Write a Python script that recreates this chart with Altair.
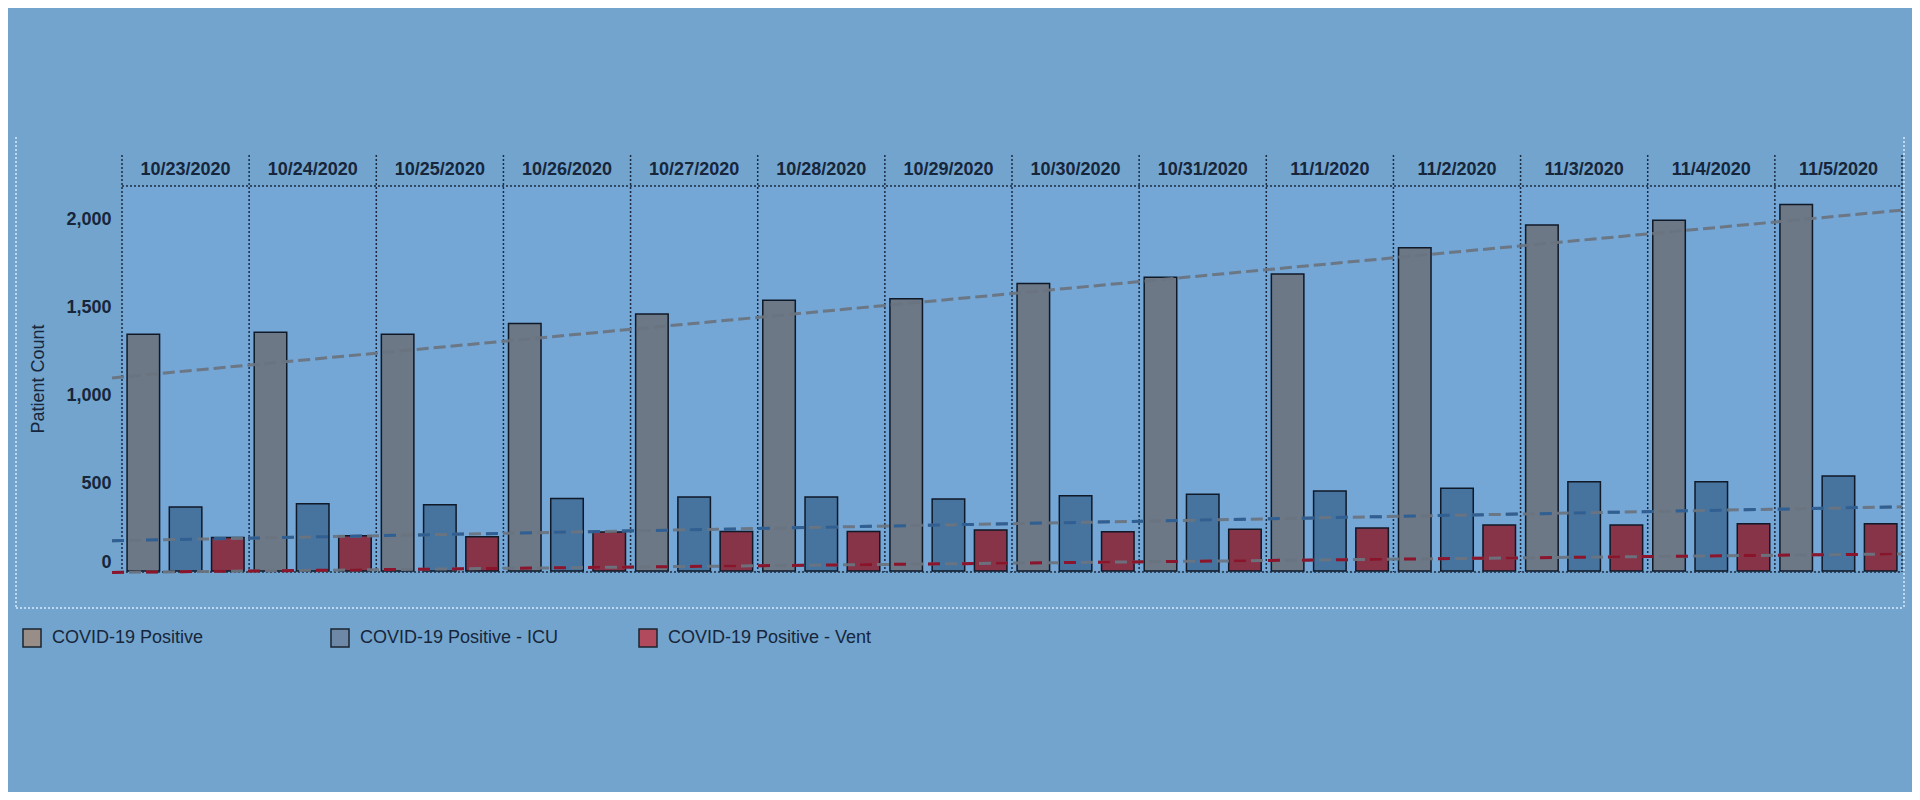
import altair as alt
import pandas as pd

# ---------------- data ----------------
dates = ["10/23/2020", "10/24/2020", "10/25/2020", "10/26/2020", "10/27/2020",
         "10/28/2020", "10/29/2020", "10/30/2020", "10/31/2020", "11/1/2020",
         "11/2/2020", "11/3/2020", "11/4/2020", "11/5/2020"]
series = ["COVID-19 Positive", "COVID-19 Positive - ICU", "COVID-19 Positive - Vent"]
positive = [1345, 1357, 1345, 1407, 1460, 1538, 1547, 1634, 1669, 1688, 1837, 1966, 1994, 2083]
icu = [364, 382, 376, 412, 420, 420, 409, 428, 436, 455, 470, 507, 507, 540]
vent = [190, 200, 195, 221, 225, 225, 233, 223, 237, 244, 261, 261, 269, 269]
y_ticks = [0, 500, 1000, 1500, 2000]

# trend lines: value at the left end and at the right end of the plot
trend_start = [1097, 172, -8]
trend_end = [2051, 365, 97]
trend_pos = [-0.0056, 1.0]

# ---------------- styles ----------------
bar_colors = ["#6c7886", "#47739f", "#873348"]
legend_colors = ["#988e87", "#6e89a8", "#b04a5c"]
trend_colors = ["#6e7884", "#2c5e94", "#8c1027"]
text_color = "#17263a"
dot_color = "#1c2b40"
font = "Liberation Sans"
W, H = 1780, 385
Y_MAX = 2188

rows = []
for d, a, b, c in zip(dates, positive, icu, vent):
    rows.append({"date": d, "series": series[0], "value": a})
    rows.append({"date": d, "series": series[1], "value": b})
    rows.append({"date": d, "series": series[2], "value": c})
bars_df = pd.DataFrame(rows)
dates_df = pd.DataFrame({"date": dates})
legend_df = pd.DataFrame({"label": series})

trend_rows = []
for s, v0, v1 in zip(series, trend_start, trend_end):
    trend_rows.append({"series": s, "t": trend_pos[0], "value": v0})
    trend_rows.append({"series": s, "t": trend_pos[1], "value": v1})
trend_df = pd.DataFrame(trend_rows)
one = pd.DataFrame({"k": [0]})

yscale = alt.Scale(domain=[0, Y_MAX], nice=False, zero=True)
xband = alt.Scale(domain=dates, paddingInner=0, paddingOuter=0)
xenc = alt.X("date:N", sort=dates, scale=xband, axis=None)

bars = alt.Chart(bars_df).mark_bar(stroke="#0f1927", strokeWidth=1.5).encode(
    x=xenc,
    xOffset=alt.XOffset("series:N", sort=series,
                        scale=alt.Scale(domain=series, paddingInner=0.23, paddingOuter=0.12)),
    y=alt.Y("value:Q", scale=yscale,
            axis=alt.Axis(title="Patient Count", values=y_ticks, format=",.0f",
                          ticks=False, domain=False, grid=False, labelFlush=True,
                          labelPadding=11, labelFont=font, labelFontSize=18,
                          labelColor=text_color, labelFontWeight="bold",
                          titleFont=font, titleFontSize=18, titleColor=text_color,
                          titleFontWeight="normal", titleAngle=270, titleX=-84,
                          titleY=H / 2, titleAlign="center", titleBaseline="middle")),
    fill=alt.Fill("series:N", scale=alt.Scale(domain=series, range=bar_colors), legend=None),
)

# legend: uses its own field so it is not merged with the (hidden) fill legend
legend_layer = alt.Chart(legend_df).mark_square(size=0, filled=True, opacity=1).encode(
    x=alt.value(0),
    y=alt.value(H),
    color=alt.Color("label:N", sort=series,
                    scale=alt.Scale(range=legend_colors),
                    legend=alt.Legend(title=None, orient="none", legendX=-100, legendY=442,
                                      direction="horizontal", columns=3, gridAlign="all",
                                      columnPadding=72, symbolType="square", symbolSize=324,
                                      symbolOpacity=1,
                                      symbolStrokeColor="#1b2430", symbolStrokeWidth=1.5,
                                      labelFont=font, labelFontSize=18, labelColor=text_color,
                                      labelOffset=10, labelLimit=500, padding=0)),
)

tx = alt.X("t:Q", scale=alt.Scale(domain=[0, 1], nice=False, zero=False), axis=None)
trend_base = alt.Chart(trend_df).mark_line(strokeDash=[12, 5], strokeWidth=3,
                                           color="#6a7480", opacity=0.95).encode(
    x=tx, y=alt.Y("value:Q", scale=yscale), detail="series:N")
trend_over = alt.Chart(trend_df).transform_filter(
    alt.FieldOneOfPredicate(field="series", oneOf=series[1:])
).mark_line(strokeDash=[12, 22], strokeWidth=3, opacity=0.95).encode(
    x=tx, y=alt.Y("value:Q", scale=yscale), detail="series:N",
    stroke=alt.Stroke("series:N", scale=alt.Scale(domain=series, range=trend_colors), legend=None))

headers = alt.Chart(dates_df).mark_text(font=font, fontSize=18, fontWeight="bold",
                                        color=text_color, baseline="middle").encode(
    x=xenc, y=alt.value(-16), text="date:N")

seps = alt.Chart(dates_df).mark_rule(color=dot_color, strokeDash=[2, 2], strokeWidth=1.5).encode(
    x=alt.X("date:N", sort=dates, scale=xband, axis=None, bandPosition=0),
    y=alt.value(-31), y2=alt.value(H + 1))
right_sep = alt.Chart(one).mark_rule(color=dot_color, strokeDash=[2, 2], strokeWidth=1.5).encode(
    x=alt.value(W), y=alt.value(-31), y2=alt.value(H + 1))
header_line = alt.Chart(one).mark_rule(color=dot_color, strokeDash=[2, 2], strokeWidth=1.5).encode(
    x=alt.value(0), x2=alt.value(W), y=alt.value(0))
bottom_line = alt.Chart(one).mark_rule(color=dot_color, strokeDash=[2, 2], strokeWidth=1.5).encode(
    x=alt.value(0), x2=alt.value(W), y=alt.value(H + 1))

border_col = "#d6eafa"
b_left = alt.Chart(one).mark_rule(color=border_col, strokeDash=[2, 2], strokeWidth=1.5).encode(
    x=alt.value(-106), y=alt.value(-49), y2=alt.value(422))
b_right = alt.Chart(one).mark_rule(color=border_col, strokeDash=[2, 2], strokeWidth=1.5).encode(
    x=alt.value(1782), y=alt.value(-49), y2=alt.value(422))
b_bottom = alt.Chart(one).mark_rule(color=border_col, strokeDash=[2, 2], strokeWidth=1.5).encode(
    x=alt.value(-106), x2=alt.value(1782), y=alt.value(422))

chart = alt.layer(
    bars, legend_layer, seps, right_sep, header_line, bottom_line, headers,
    trend_base, trend_over, b_left, b_right, b_bottom
).resolve_scale(x="independent").properties(
    width=W, height=H,
    padding={"left": 114, "top": 178, "right": 10, "bottom": 221},
    autosize=alt.AutoSizeParams(type="none"),
    background="#72A4CE",
).configure_view(stroke=None, fill="#74A6D6")

chart.save("out.html", embed_options={"renderer": "svg", "actions": False})
